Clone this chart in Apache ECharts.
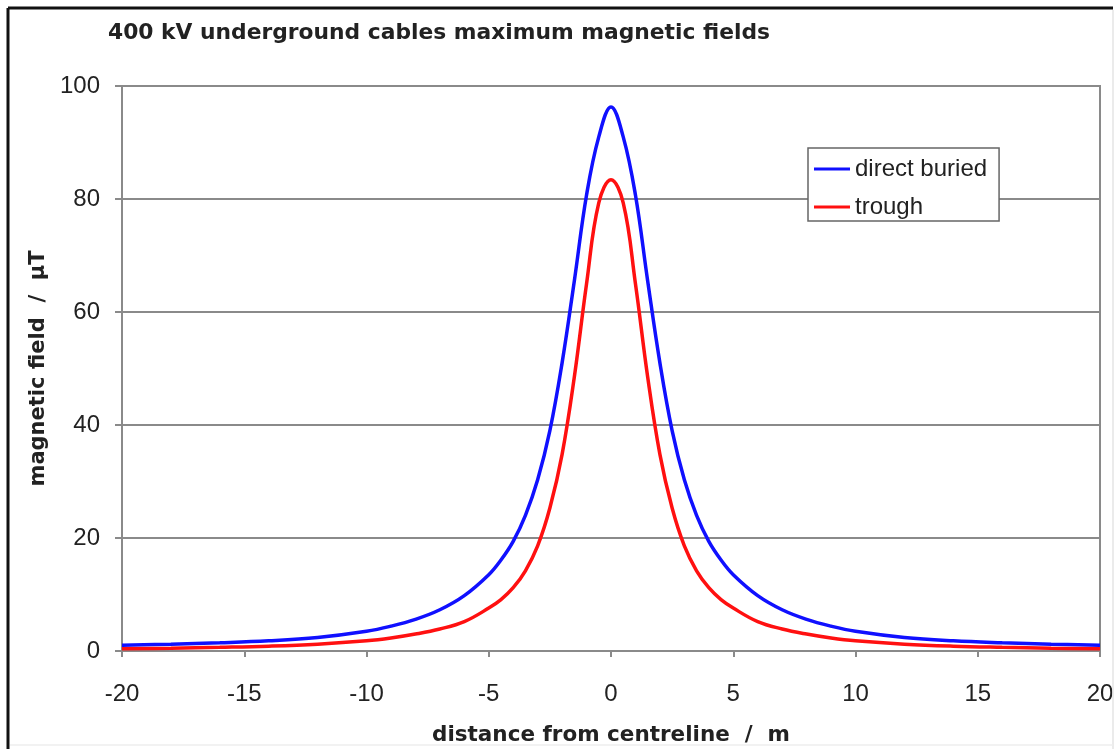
<!DOCTYPE html>
<html>
<head>
<meta charset="utf-8">
<script src="https://cdn.jsdelivr.net/npm/echarts@6/dist/echarts.min.js"></script>
<style>
html,body{margin:0;padding:0;background:#fff;}
#chart{width:1118px;height:749px;}
</style>
</head>
<body>
<div id="chart"></div>
<script>
// distance from centreline (m)
const distances = [-20,-18,-16,-14,-12,-10,-9,-8,-7,-6,-5,-4.5,-4,-3.5,-3,-2.5,-2,-1.5,-1,-0.5,0,0.5,1,1.5,2,2.5,3,3.5,4,4.5,5,6,7,8,9,10,12,14,16,18,20];
// magnetic field (µT)
const directBuried = [1.0,1.2,1.45,1.8,2.4,3.5,4.4,5.6,7.3,9.8,13.5,16.1,19.4,24.0,30.3,39.0,51.0,65.5,80.7,91.0,96.3,91.0,80.7,65.5,51.0,39.0,30.3,24.0,19.4,16.1,13.5,9.8,7.3,5.6,4.4,3.5,2.4,1.8,1.45,1.2,1.0];
const trough = [0.4,0.5,0.65,0.85,1.2,1.8,2.3,3.0,3.9,5.2,7.6,9.1,11.2,14.2,18.6,25.3,34.8,48.5,65.0,79.3,83.4,79.3,65.0,48.5,34.8,25.3,18.6,14.2,11.2,9.1,7.6,5.2,3.9,3.0,2.3,1.8,1.2,0.85,0.65,0.5,0.4];
const xTicks = [-20,20,5];   // min, max, interval
const yTicks = [0,100,20];
const seriesNames = ['direct buried','trough'];

const chart = echarts.init(document.getElementById('chart'));
const font = '"Liberation Sans", Arial, sans-serif';
const boldFont = '"DejaVu Sans", Verdana, sans-serif';
const gridColor = '#8a8a8a';
chart.setOption({
  backgroundColor:'#fff',
  animation:false,
  title:{
    text:'400 kV underground cables maximum magnetic fields',
    left:103, top:17,
    textStyle:{fontFamily:boldFont,fontWeight:'bold',fontSize:21.8,color:'#222'}
  },
  legend:{
    orient:'vertical',
    left:808, top:148,
    backgroundColor:'#fff',
    borderColor:'#666', borderWidth:1.5, borderRadius:0,
    padding:[9,12,2,6],
    itemGap:14,
    icon:'rect', itemWidth:36, itemHeight:3,
    textStyle:{fontFamily:font,fontSize:24,color:'#222',padding:[0,0,0,0]},
    data:seriesNames
  },
  grid:{left:122,right:18,top:86,bottom:98,outerBoundsMode:'none',containLabel:false,show:true,borderColor:gridColor,borderWidth:2,backgroundColor:'#fff'},
  xAxis:{
    type:'value',
    min:xTicks[0],max:xTicks[1],interval:xTicks[2],
    name:'distance from centreline  /  m',
    nameLocation:'middle',nameGap:73,
    nameTextStyle:{fontFamily:boldFont,fontWeight:'bold',fontSize:21.5,color:'#222'},
    axisLine:{show:true,onZero:false,lineStyle:{color:gridColor,width:2}},
    axisTick:{show:true,length:6,lineStyle:{color:gridColor,width:2}},
    axisLabel:{margin:31,fontFamily:font,fontSize:24,color:'#222'},
    splitLine:{show:false}
  },
  yAxis:{
    type:'value',
    min:yTicks[0],max:yTicks[1],interval:yTicks[2],
    name:'magnetic field  /  µT',
    nameLocation:'middle',nameGap:73,nameRotate:90,
    nameTextStyle:{fontFamily:boldFont,fontWeight:'bold',fontSize:21,color:'#222'},
    axisLine:{show:true,onZero:false,lineStyle:{color:gridColor,width:2}},
    axisTick:{show:true,length:7,lineStyle:{color:gridColor,width:2}},
    axisLabel:{margin:22,fontFamily:font,fontSize:24,color:'#222'},
    splitLine:{show:true,lineStyle:{color:gridColor,width:2}}
  },
  graphic:[
    {type:'line',shape:{x1:8,y1:8,x2:1113,y2:8},style:{stroke:'#111',lineWidth:3},z:100},
    {type:'line',shape:{x1:8,y1:8,x2:8,y2:749},style:{stroke:'#111',lineWidth:3},z:100},
    {type:'line',shape:{x1:1113,y1:10,x2:1113,y2:749},style:{stroke:'#e4e4e4',lineWidth:1.5},z:100},
    {type:'line',shape:{x1:10,y1:745,x2:1113,y2:745},style:{stroke:'#eeeeee',lineWidth:1.5},z:100}
  ],
  series:[
    {
      name:seriesNames[0],type:'line',
      data:distances.map((d,i)=>[d,directBuried[i]]),
      smooth:0.4,showSymbol:false,symbol:'none',
      lineStyle:{color:'#1010ff',width:3.5},itemStyle:{color:'#1010ff'},z:3
    },
    {
      name:seriesNames[1],type:'line',
      data:distances.map((d,i)=>[d,trough[i]]),
      smooth:0.4,showSymbol:false,symbol:'none',
      lineStyle:{color:'#ff1010',width:3.5},itemStyle:{color:'#ff1010'},z:4
    }
  ]
});
</script>
</body>
</html>
